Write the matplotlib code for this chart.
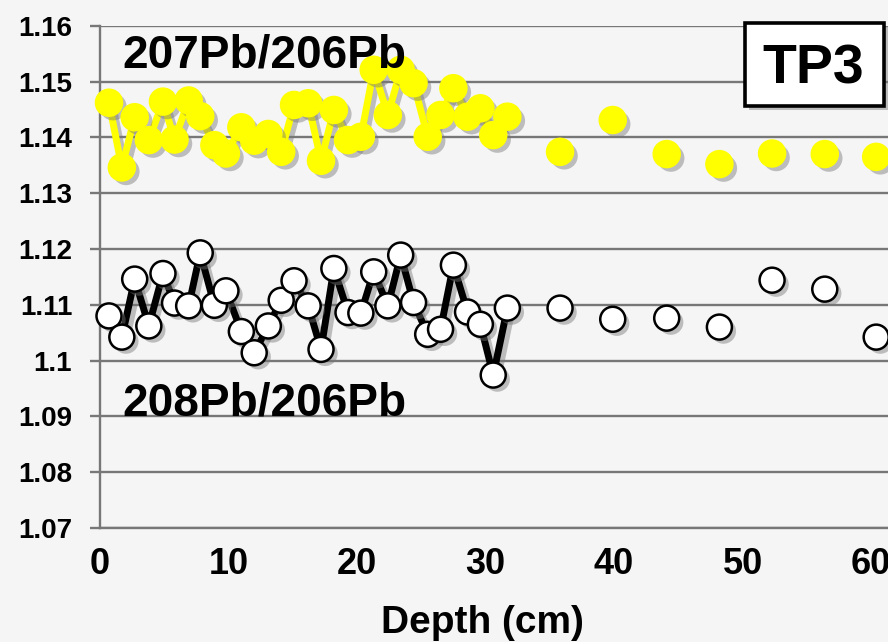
import numpy as np
import matplotlib
matplotlib.use("Agg")
import matplotlib.pyplot as plt
import matplotlib.patheffects as pe
from matplotlib.patches import Rectangle

plt.rcParams['font.family'] = ['Liberation Sans', 'DejaVu Sans']
plt.rcParams['font.weight'] = 'bold'

# depth (cm), first 31 samples are joined by a line, the rest are single points
depth_joined = [0.7, 1.7, 2.7, 3.8, 4.9, 5.8, 6.9, 7.8, 8.9, 9.8, 11.0, 12.0, 13.1, 14.1,
                15.1, 16.2, 17.2, 18.2, 19.3, 20.3, 21.3, 22.4, 23.4, 24.4, 25.5, 26.5,
                27.5, 28.6, 29.6, 30.6, 31.7]
depth_single = [35.8, 39.9, 44.1, 48.2, 52.3, 56.4, 60.4]

pb207_joined = [1.1462, 1.1346, 1.1436, 1.1395, 1.1464, 1.1396, 1.1466, 1.1438, 1.1386,
                1.1371, 1.1418, 1.1394, 1.1406, 1.1374, 1.1458, 1.1461, 1.1358, 1.1449,
                1.1395, 1.1401, 1.1521, 1.1440, 1.1521, 1.1497, 1.1401, 1.1440, 1.1488,
                1.1437, 1.1452, 1.1404, 1.1437]
pb207_single = [1.1374, 1.1431, 1.1370, 1.1352, 1.1371, 1.1370, 1.1365]

pb208_joined = [1.1080, 1.1042, 1.1146, 1.1062, 1.1156, 1.1103, 1.1098, 1.1193, 1.1099,
                1.1125, 1.1052, 1.1014, 1.1062, 1.1108, 1.1143, 1.1098, 1.1020, 1.1165,
                1.1086, 1.1085, 1.1159, 1.1098, 1.1189, 1.1104, 1.1047, 1.1056, 1.1171,
                1.1087, 1.1065, 1.0974, 1.1094]
pb208_single = [1.1094, 1.1074, 1.1076, 1.1060, 1.1144, 1.1128, 1.1042]

yticks = [1.07, 1.08, 1.09, 1.10, 1.11, 1.12, 1.13, 1.14, 1.15, 1.16]
ytick_labels = ['1.07', '1.08', '1.09', '1.1', '1.11', '1.12', '1.13', '1.14', '1.15', '1.16']
xticks = [0, 10, 20, 30, 40, 50, 60]

W, H = 888, 642
bg = '#f5f5f5'
fig = plt.figure(figsize=(W / 100, H / 100), dpi=100, facecolor=bg)


def fx(px):
    return px / W


def fy(py):
    return 1 - py / H


ax = fig.add_axes([fx(100), fy(528), fx(888) - fx(100), fy(25.7) - fy(528)])
ax.set_facecolor(bg)
ax.set_xlim(0.28, 61.32)
ax.set_ylim(1.07, 1.16)

for s in ['top', 'right']:
    ax.spines[s].set_visible(False)
for s in ['left', 'bottom']:
    ax.spines[s].set_color('#777777')
    ax.spines[s].set_linewidth(1.7)

ax.set_yticks(yticks)
ax.set_yticklabels(ytick_labels)
ax.set_xticks(xticks)
ax.tick_params(axis='y', length=7, width=1.7, color='#777777', pad=13, labelsize=20)
ax.tick_params(axis='x', length=0, pad=14, labelsize=26)
for lab in ax.get_xticklabels() + ax.get_yticklabels():
    lab.set_fontweight('bold')
ax.grid(axis='y', color='#777777', linewidth=1.7)
ax.set_axisbelow(True)

line_shadow = [pe.SimpleLineShadow(offset=(3, -3), shadow_color='#777777', alpha=0.45), pe.Normal()]
dot_shadow = [pe.SimplePatchShadow(offset=(3, -3), shadow_rgbFace='#777777', alpha=0.45), pe.Normal()]

# 207Pb/206Pb, yellow
ax.plot(depth_joined, pb207_joined, color='#ffff00', lw=5, zorder=3,
        path_effects=line_shadow, clip_on=False)
ax.plot(depth_joined + depth_single, pb207_joined + pb207_single, ls='none', marker='o',
        ms=19.5, mfc='#ffff00', mec='#ffff00', zorder=4, path_effects=dot_shadow, clip_on=False)

# 208Pb/206Pb, black line with white markers
ax.plot(depth_joined, pb208_joined, color='black', lw=5, zorder=3,
        path_effects=line_shadow, clip_on=False)
ax.plot(depth_joined + depth_single, pb208_joined + pb208_single, ls='none', marker='o',
        ms=18, mfc='white', mec='black', mew=1.8, zorder=4, path_effects=dot_shadow, clip_on=False)

fig.text(fx(122), fy(67), '207Pb/206Pb', fontsize=33, fontweight='bold', ha='left', va='baseline')
fig.text(fx(122), fy(416), '208Pb/206Pb', fontsize=33, fontweight='bold', ha='left', va='baseline')
fig.text(fx(482), fy(633), 'Depth (cm)', fontsize=28, fontweight='bold', ha='center', va='baseline')

box = Rectangle((fx(745), fy(106)), fx(884) - fx(745), fy(23) - fy(106), transform=fig.transFigure,
                facecolor='white', edgecolor='black', linewidth=2.6, zorder=5,
                path_effects=[pe.SimplePatchShadow(offset=(3, -3), shadow_rgbFace='#777777', alpha=0.45),
                              pe.Normal()])
fig.add_artist(box)
fig.text(fx(813), fy(83), 'TP3', fontsize=40, fontweight='bold', ha='center', va='baseline', zorder=6)

fig.savefig('out.png', dpi=100, facecolor=bg)
